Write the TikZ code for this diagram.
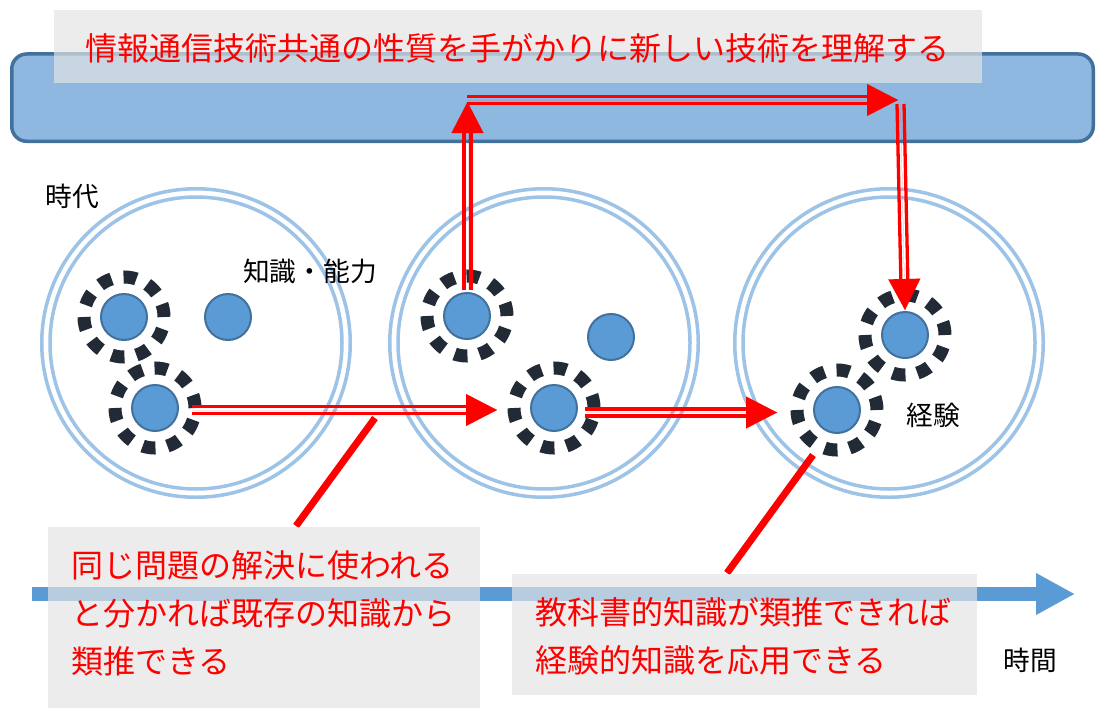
\documentclass[tikz,border=0pt]{standalone}
\usepackage{fontspec}
\setmainfont{Noto Sans CJK JP}
\usetikzlibrary{arrows.meta}
\definecolor{barfill}{HTML}{8FB8E0}
\definecolor{barline}{HTML}{41719C}
\definecolor{ringblue}{HTML}{9DC3E6}
\definecolor{dotfill}{HTML}{5B9BD5}
\definecolor{dotline}{HTML}{41719C}
\definecolor{ringdark}{HTML}{222A35}
\definecolor{boxgray}{HTML}{E4E4E4}
\definecolor{timeblue}{HTML}{5B9BD5}
\begin{document}
\begin{tikzpicture}[x=1pt,y=-1pt,
  dot/.style={circle, fill=dotfill, draw=dotline, line width=2pt, minimum size=46pt, inner sep=0pt},
  dashring/.style={draw=ringdark, line width=13pt, dash pattern=on 13pt off 12.13pt},
  bigring/.style={draw=ringblue, line width=3.5pt},
  rail/.style={draw=red, line width=3.3pt, shorten >=29pt},
  tiparrow/.style={draw=red, line width=0.01pt, -{Triangle[length=31pt,width=32pt]}},
  callout/.style={draw=red, line width=7pt},
  graybox/.style={fill=boxgray, fill opacity=0.68},
  redtxt/.style={text=red, inner sep=0pt, font=\fontsize{32}{48}\selectfont, align=left},
  lbl/.style={text=black, inner sep=0pt, font=\fontsize{26.7}{32}\selectfont}]

\useasboundingbox (0,0) rectangle (1097,709);
\fill[white] (0,0) rectangle (1097,709);

% top bar and title
\draw[fill=barfill, draw=barline, line width=3.5pt, rounded corners=15pt] (11.75,54) rectangle (1093.25,141.3);
\fill[graybox] (54,10) rectangle (982,83);
\node[redtxt] (title) at (517,48) {情報通信技術共通の性質を手がかりに新しい技術を理解する};

% eras
\foreach \c/\x in {1/196, 2/544, 3/889} {
  \coordinate (era\c) at (\x,343);
  \draw[bigring] (era\c) circle[radius=154.25pt];
  \draw[bigring] (era\c) circle[radius=146pt];
}

% knowledge dots
\node[dot] (A1) at (124,317) {};
\node[dot] (A3) at (228,317) {};
\node[dot] (A2) at (155,408) {};
\node[dot] (B1) at (467,316) {};
\node[dot] (B3) at (611,337) {};
\node[dot] (B2) at (554,408) {};
\node[dot] (C1) at (905,335) {};
\node[dot] (C2) at (837,410) {};
\foreach \n in {A1,A2,B1,B2,C1,C2} {
  \draw[dashring] (\n.center) circle[radius=40pt];
}

% connector coordinates
\coordinate (a2s) at (192,410);
\coordinate (b2t) at (497,410);
\coordinate (b2s) at (585,412.5);
\coordinate (c2t) at (777,412.5);
\coordinate (b1s) at (467.5,290);
\coordinate (b1t) at (467.5,102);
\coordinate (tops) at (467,100);
\coordinate (topt) at (898,100);
\coordinate (downs) at (900.5,104);
\coordinate (c1t) at (905,310);

% double red arrows
\draw[rail] ([yshift=3.5pt]a2s) -- ([yshift=3.5pt]b2t);
\draw[rail] ([yshift=-3.5pt]a2s) -- ([yshift=-3.5pt]b2t);
\draw[tiparrow] (a2s) -- (b2t);

\draw[rail] ([yshift=3.5pt]b2s) -- ([yshift=3.5pt]c2t);
\draw[rail] ([yshift=-3.5pt]b2s) -- ([yshift=-3.5pt]c2t);
\draw[tiparrow] (b2s) -- (c2t);

\draw[rail] ([xshift=3.5pt]b1s) -- ([xshift=3.5pt]b1t);
\draw[rail] ([xshift=-3.5pt]b1s) -- ([xshift=-3.5pt]b1t);
\draw[tiparrow] (b1s) -- (b1t);

\draw[rail] ([yshift=3.3pt]tops) -- ([yshift=3.3pt]topt);
\draw[rail] ([yshift=-3.3pt]tops) -- ([yshift=-3.3pt]topt);
\draw[tiparrow] (tops) -- (topt);

\draw[rail] ([xshift=3.5pt]downs) -- ([xshift=3.5pt]c1t);
\draw[rail] ([xshift=-3.5pt]downs) -- ([xshift=-3.5pt]c1t);
\draw[tiparrow] (downs) -- (c1t);

% callout lines
\coordinate (cl1a) at (375,418);
\coordinate (cl1b) at (296,526);
\coordinate (cl2a) at (813,455);
\coordinate (cl2b) at (727,573);
\draw[callout] (cl1a) -- (cl1b);
\draw[callout] (cl2a) -- (cl2b);

% time axis
\coordinate (t0) at (32,594);
\coordinate (t1) at (1075,594);
\draw[timeblue, line width=14pt, -{Triangle[length=39pt,width=39pt]}] (t0) -- (t1);

% note boxes
\fill[graybox] (48,527) rectangle (480,708);
\fill[graybox] (512,574) rectangle (977,695);
\node[redtxt, anchor=west] (note1) at (71,613) {同じ問題の解決に使われる\\と分かれば既存の知識から\\類推できる};
\node[redtxt, anchor=west] (note2) at (535,636) {教科書的知識が類推できれば\\経験的知識を応用できる};

% labels
\node[lbl] (eralbl) at (72,196) {時代};
\node[lbl] (knowlbl) at (310,271) {知識・能力};
\node[lbl] (explbl) at (933,415) {経験};
\node[lbl] (timelbl) at (1030,660) {時間};
\end{tikzpicture}
\end{document}
